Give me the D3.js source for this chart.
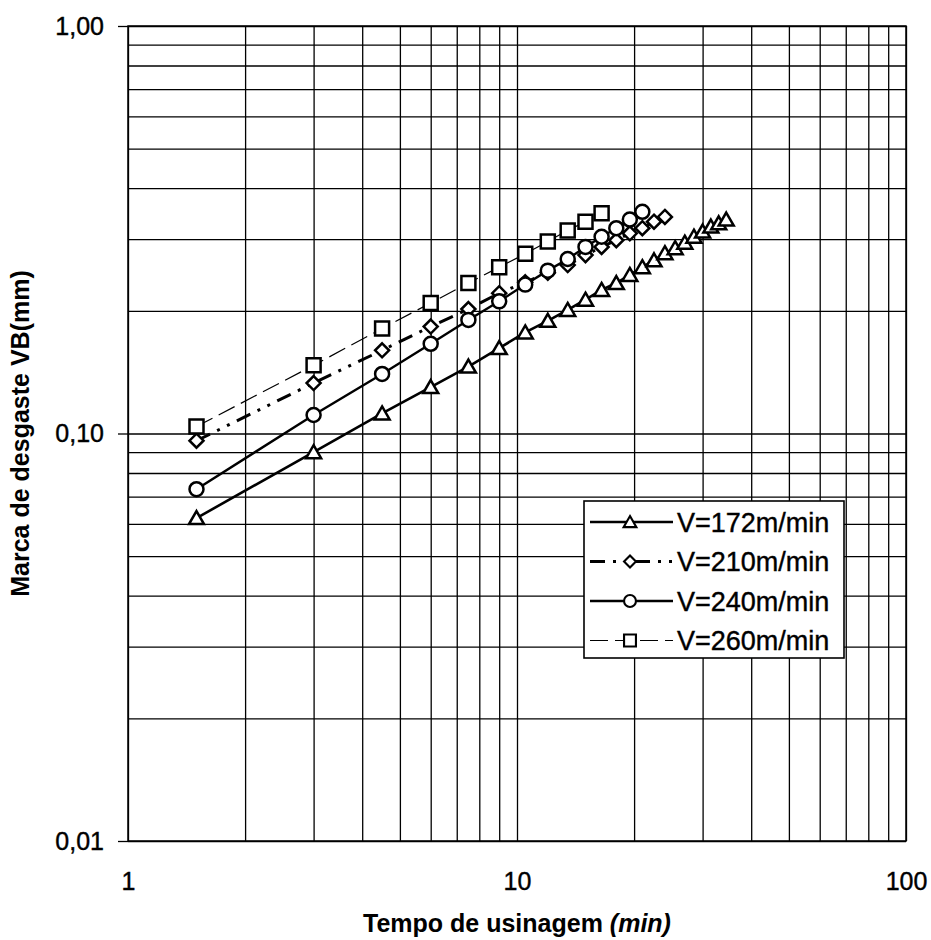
<!DOCTYPE html>
<html>
<head>
<meta charset="utf-8">
<script src="https://cdn.jsdelivr.net/npm/d3@7"></script>
<style>
  body { margin: 0; background: #fff; }
  svg { display: block; font-family: "Liberation Sans", Arial, sans-serif; }
  .grid line { stroke: #000; stroke-width: 1.3; }
  .grid path { display: none; }
  .tick-label text { font-size: 25px; fill: #000; stroke: #000; stroke-width: 0.4; }
  .axis-title { font-size: 25px; font-weight: bold; fill: #000; }
  .legend-label { font-size: 27px; fill: #000; stroke: #000; stroke-width: 0.4; }
</style>
</head>
<body>
<svg id="chart"></svg>
<script>
// tool wear (VB, mm) against machining time (min), one list per cutting speed
const times172 = [1.5, 3, 4.5, 6, 7.5, 9, 10.5, 12, 13.5, 15, 16.5, 18, 19.5, 21, 22.5, 24, 25.5, 27, 28.5, 30, 31.5, 33, 34.5];
const wear172 = [0.062, 0.090, 0.112, 0.130, 0.146, 0.162, 0.177, 0.189, 0.201, 0.213, 0.225, 0.234, 0.245, 0.256, 0.266, 0.277, 0.285, 0.294, 0.304, 0.313, 0.322, 0.328, 0.335];

const times210 = [1.5, 3, 4.5, 6, 7.5, 9, 10.5, 12, 13.5, 15, 16.5, 18, 19.5, 21, 22.5, 24];
const wear210 = [0.096, 0.133, 0.160, 0.183, 0.202, 0.221, 0.235, 0.248, 0.259, 0.274, 0.287, 0.298, 0.310, 0.319, 0.331, 0.340];

const times240 = [1.5, 3, 4.5, 6, 7.5, 9, 10.5, 12, 13.5, 15, 16.5, 18, 19.5, 21];
const wear240 = [0.073, 0.111, 0.140, 0.166, 0.190, 0.211, 0.232, 0.251, 0.268, 0.287, 0.304, 0.319, 0.335, 0.350];

const times260 = [1.5, 3, 4.5, 6, 7.5, 9, 10.5, 12, 13.5, 15, 16.5];
const wear260 = [0.104, 0.147, 0.181, 0.209, 0.234, 0.256, 0.276, 0.296, 0.315, 0.331, 0.347];

const seriesLabels = ['V=172m/min', 'V=210m/min', 'V=240m/min', 'V=260m/min'];
const xLabelTicks = [1, 10, 100];
const yLabelTicks = [0.01, 0.1, 1];
const xTitle = 'Tempo de usinagem ';
const xTitleUnit = '(min)';
const yTitle = 'Marca de desgaste VB(mm)';

const width = 931, height = 940;
const margin = {top: 26, right: 25, bottom: 99, left: 128};
const innerW = width - margin.left - margin.right;
const innerH = height - margin.top - margin.bottom;

const svg = d3.select('#chart').attr('width', width).attr('height', height);
const chart = svg.append('g').attr('transform', `translate(${margin.left},${margin.top})`);

const x = d3.scaleLog().domain([1, 100]).range([0, innerW]);
const y = d3.scaleLog().domain([0.01, 1]).range([innerH, 0]);

const locale = d3.formatLocale({decimal: ',', thousands: '.', grouping: [3], currency: ['', '']});
const yFmt = locale.format('.2f');

// gridlines (every 1..9 of each decade)
chart.append('g').attr('class', 'grid')
    .attr('transform', `translate(0,${innerH})`)
    .call(d3.axisBottom(x).tickSize(-innerH).tickFormat(''));
chart.append('g').attr('class', 'grid')
    .call(d3.axisLeft(y).tickSize(-innerW).tickFormat(''));

// tick labels
const xAx = chart.append('g').attr('class', 'tick-label')
    .attr('transform', `translate(0,${innerH})`)
    .call(d3.axisBottom(x).tickValues(xLabelTicks).tickSize(0).tickPadding(31).tickFormat(d3.format('d')));
xAx.select('.domain').remove();
xAx.selectAll('text').attr('font-size', null).attr('font-family', null);

const yAx = chart.append('g').attr('class', 'tick-label')
    .call(d3.axisLeft(y).tickValues(yLabelTicks).tickSize(10).tickPadding(14).tickFormat(yFmt));
yAx.select('.domain').remove();
yAx.selectAll('line').attr('stroke', '#000').attr('stroke-width', 1.3);
yAx.selectAll('text').attr('font-size', null).attr('font-family', null);

// plot frame
chart.append('rect')
    .attr('width', innerW).attr('height', innerH)
    .attr('fill', 'none').attr('stroke', '#000').attr('stroke-width', 1.5);

// marker shapes
const markerPath = {
  triangle: 'M0,-7L7.5,6L-7.5,6Z',
  diamond: 'M0,-7L7,0L0,7L-7,0Z',
  circle: d3.arc()({innerRadius: 0, outerRadius: 7, startAngle: 0, endAngle: 2 * Math.PI}),
  square: 'M-7,-7H7V7H-7Z'
};

const series = [
  {name: seriesLabels[0], t: times172, v: wear172, marker: 'triangle', width: 2.6, dash: null},
  {name: seriesLabels[1], t: times210, v: wear210, marker: 'diamond', width: 3, dash: '15,8,3,8,3,8'},
  {name: seriesLabels[2], t: times240, v: wear240, marker: 'circle', width: 2.4, dash: null},
  {name: seriesLabels[3], t: times260, v: wear260, marker: 'square', width: 1.2, dash: '18,7'}
];

const line = d3.line().x(d => x(d[0])).y(d => y(d[1]));

series.forEach(s => {
  const pts = s.t.map((t, i) => [t, s.v[i]]);
  const g = chart.append('g').attr('class', 'series');
  g.append('path')
      .datum(pts)
      .attr('d', line)
      .attr('fill', 'none')
      .attr('stroke', '#000')
      .attr('stroke-width', s.width)
      .attr('stroke-dasharray', s.dash);
  g.selectAll('.pt')
      .data(pts)
      .join('path')
      .attr('class', 'pt')
      .attr('transform', d => `translate(${x(d[0])},${y(d[1])})`)
      .attr('d', markerPath[s.marker])
      .attr('fill', '#fff')
      .attr('stroke', '#000')
      .attr('stroke-width', 2.5);
});

// legend
const legend = svg.append('g').attr('transform', 'translate(584,501)');
legend.append('rect')
    .attr('width', 260).attr('height', 157)
    .attr('fill', '#fff').attr('stroke', '#000').attr('stroke-width', 1.6);
const rows = legend.selectAll('.row')
    .data(series)
    .join('g')
    .attr('class', 'row')
    .attr('transform', (d, i) => `translate(0,${21 + i * 39.5})`);
rows.append('line')
    .attr('x1', 6).attr('x2', 89)
    .attr('stroke', '#000')
    .attr('stroke-width', d => d.width)
    .attr('stroke-dasharray', d => d.dash);
rows.append('path')
    .attr('transform', 'translate(46,0) scale(0.85)')
    .attr('d', d => markerPath[d.marker])
    .attr('fill', '#fff').attr('stroke', '#000').attr('stroke-width', 2.5);
rows.append('text')
    .attr('class', 'legend-label')
    .attr('x', 93).attr('dy', '0.36em')
    .text(d => d.name);

// axis titles
const xt = svg.append('text')
    .attr('class', 'axis-title')
    .attr('x', margin.left + innerW / 2).attr('y', 932)
    .attr('text-anchor', 'middle');
xt.append('tspan').text(xTitle);
xt.append('tspan').attr('font-style', 'italic').text(xTitleUnit);
svg.append('text')
    .attr('class', 'axis-title')
    .attr('transform', `translate(29,${margin.top + innerH / 2}) rotate(-90)`)
    .attr('text-anchor', 'middle')
    .attr('font-size', 26)
    .text(yTitle);
</script>
</body>
</html>
